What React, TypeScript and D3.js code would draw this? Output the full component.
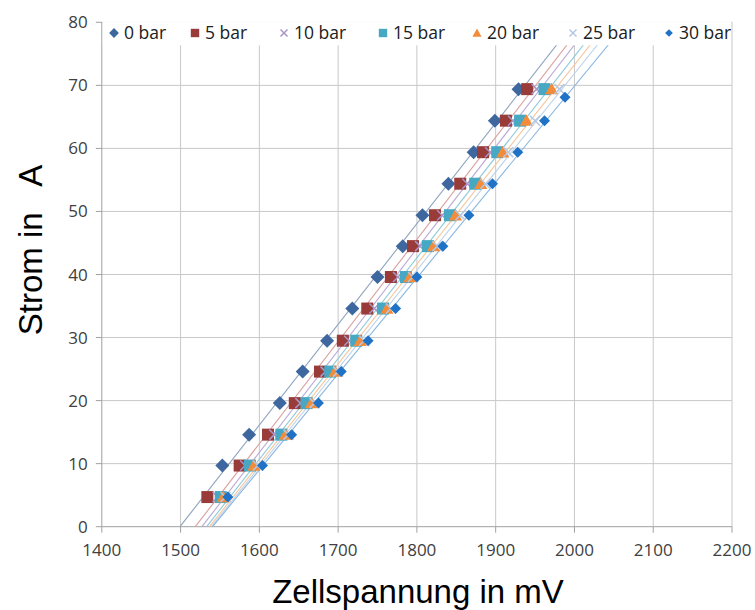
import React from 'react';
import * as d3 from 'd3';

const seriesNames = ['0 bar', '5 bar', '10 bar', '15 bar', '20 bar', '25 bar', '30 bar'];
const currents = [4.7, 9.7, 14.6, 19.6, 24.6, 29.5, 34.6, 39.6, 44.5, 49.4, 54.4, 59.4, 64.4, 69.4];
const currents30 = [4.7, 9.7, 14.6, 19.6, 24.6, 29.5, 34.6, 39.6, 44.5, 49.4, 54.4, 59.4, 64.4, 68.1];

const volt0 = [null, 1553, 1587, 1626, 1655, 1686, 1718, 1750, 1782, 1807, 1840, 1872, 1899, 1929];
const volt5 = [1534, 1575, 1611, 1645, 1677, 1706, 1737, 1767, 1795, 1823, 1855, 1884, 1913, 1940];
const volt10 = [1547, 1582, 1619, 1652, 1684, 1714, 1746, 1776, 1804, 1832, 1864, 1893, 1922, 1952];
const volt15 = [1551, 1588, 1628, 1660, 1690, 1723, 1757, 1786, 1814, 1842, 1874, 1902, 1931, 1962];
const volt20 = [1554, 1593, 1633, 1666, 1696, 1728, 1762, 1791, 1821, 1849, 1881, 1909, 1939, 1971];
const volt25 = [1557, 1598, 1637, 1670, 1700, 1733, 1767, 1795, 1826, 1855, 1887, 1916, 1950, 1981];
const volt30 = [1560, 1604, 1641, 1675, 1704, 1738, 1773, 1800, 1833, 1866, 1896, 1928, 1962, 1988];

const xTicks = [1400, 1500, 1600, 1700, 1800, 1900, 2000, 2100, 2200];
const yTicks = [0, 10, 20, 30, 40, 50, 60, 70, 80];

const markerColors = ['#3D679E', '#983B39', '#A896C8', '#46A8C2', '#F28C3A', '#B4C8E2', '#2072C6'];
const lineColors = ['#8EA3BE', '#D9A09E', '#BBA8D6', '#8ECADB', '#F8C59A', '#BFD3EA', '#86B6E2'];
const markerShapes = ['diamond', 'square', 'x', 'square', 'triangle', 'x', 'diamondSmall'];
const legendX = [114, 195, 284, 383, 477, 573, 669];

const W = 755, H = 610;
const xScale = d3.scaleLinear().domain([1400, 2200]).range([101.8, 732]);
const yScale = d3.scaleLinear().domain([0, 80]).range([526.7, 22.3]);

function Marker({ shape, x, y, color, scale = 1 }: any) {
  if (shape === 'diamond' || shape === 'diamondSmall') {
    const r = (shape === 'diamond' ? 7 : 5.5) * scale;
    return <path d={`M${x},${y - r}L${x + r},${y}L${x},${y + r}L${x - r},${y}Z`} fill={color} />;
  }
  if (shape === 'square') {
    const s = 6 * scale;
    return <rect x={x - s} y={y - s} width={2 * s} height={2 * s} fill={color} />;
  }
  if (shape === 'triangle') {
    const s = 6.5 * scale;
    return <path d={`M${x},${y - s}L${x + s},${y + s * 0.8}L${x - s},${y + s * 0.8}Z`} fill={color} />;
  }
  const s = 5 * scale;
  return <path d={`M${x - s},${y - s}L${x + s},${y + s}M${x - s},${y + s}L${x + s},${y - s}`} stroke={color} strokeWidth={1.5} fill="none" />;
}

export default function App() {
  const volts = [volt0, volt5, volt10, volt15, volt20, volt25, volt30];
  const series = volts.map((vs, i) => {
    const cur = i === 6 ? currents30 : currents;
    const pts = vs.map((v, j) => ({ x: v, y: cur[j] })).filter((p) => p.x != null) as { x: number; y: number }[];
    const mx = d3.mean(pts, (p) => p.x)!;
    const my = d3.mean(pts, (p) => p.y)!;
    const sxy = d3.sum(pts, (p) => (p.x - mx) * (p.y - my));
    const sxx = d3.sum(pts, (p) => (p.x - mx) * (p.x - mx));
    const m = sxy / sxx;
    const b = my - m * mx;
    return { name: seriesNames[i], pts, m, b };
  });
  const plotL = xScale(1400), plotR = xScale(2200), plotT = yScale(80), plotB = yScale(0);
  return (
    <svg width={W} height={H} style={{ position: 'absolute', left: 0, top: 0, background: '#fff' }}>
      <defs>
        <clipPath id="plotClip">
          <rect x={plotL} y={plotT} width={plotR - plotL} height={plotB - plotT} />
        </clipPath>
      </defs>
      {xTicks.slice(1).map((t) => (
        <line key={'gx' + t} x1={xScale(t)} x2={xScale(t)} y1={plotT} y2={plotB} stroke="#C8C8C8" strokeWidth={1} />
      ))}
      {yTicks.slice(1).map((t) => (
        <line key={'gy' + t} x1={plotL} x2={plotR} y1={yScale(t)} y2={yScale(t)} stroke="#C8C8C8" strokeWidth={1} />
      ))}
      <line x1={plotL} x2={plotL} y1={plotT} y2={plotB} stroke="#A0A0A0" />
      <line x1={plotL} x2={plotR} y1={plotB} y2={plotB} stroke="#A0A0A0" />
      {yTicks.map((t) => (
        <line key={'ty' + t} x1={plotL - 6} x2={plotL} y1={yScale(t)} y2={yScale(t)} stroke="#A0A0A0" />
      ))}
      {xTicks.map((t) => (
        <line key={'tx' + t} x1={xScale(t)} x2={xScale(t)} y1={plotB} y2={plotB + 6} stroke="#A0A0A0" />
      ))}
      <g clipPath="url(#plotClip)">
        {series.map((s, i) => {
          const x0 = (0 - s.b) / s.m;
          const x1 = (85 - s.b) / s.m;
          return (
            <line key={'tl' + i} x1={xScale(x0)} y1={yScale(0)} x2={xScale(x1)} y2={yScale(85)} stroke={lineColors[i]} strokeWidth={1.1} />
          );
        })}
      </g>
      {series.map((s, i) => (
        <g key={'m' + i}>
          {s.pts.map((p, j) => (
            <Marker key={j} shape={markerShapes[i]} x={xScale(p.x)} y={yScale(p.y)} color={markerColors[i]} />
          ))}
        </g>
      ))}
      <rect x={plotL + 1} y={plotT - 1} width={plotR - plotL - 2} height={24} fill="#fff" />
      {series.map((s, i) => (
        <g key={'lg' + i}>
          <Marker shape={markerShapes[i]} x={legendX[i]} y={33} color={markerColors[i]} scale={0.7} />
          <text x={legendX[i] + 10} y={39} fontFamily="'Open Sans', sans-serif" fontSize={17.5} fill="#202020">
            {s.name}
          </text>
        </g>
      ))}
      {yTicks.map((t) => (
        <text key={'ly' + t} x={plotL - 14} y={yScale(t) + 6} textAnchor="end" fontFamily="'Open Sans', sans-serif" fontSize={17} fill="#404040">
          {t}
        </text>
      ))}
      {xTicks.map((t) => (
        <text key={'lx' + t} x={xScale(t)} y={plotB + 29} textAnchor="middle" fontFamily="'Open Sans', sans-serif" fontSize={17} fill="#404040">
          {t}
        </text>
      ))}
      <text x={418} y={603} textAnchor="middle" fontFamily="'Liberation Sans', Arial, sans-serif" fontSize={33} fill="#000">
        Zellspannung in mV
      </text>
      <text
        transform={`translate(42,250) rotate(-90)`}
        textAnchor="middle"
        fontFamily="'Liberation Sans', Arial, sans-serif"
        fontSize={33}
        fill="#000"
        style={{ whiteSpace: 'pre' }}
      >
        {'Strom in   A'}
      </text>
    </svg>
  );
}
